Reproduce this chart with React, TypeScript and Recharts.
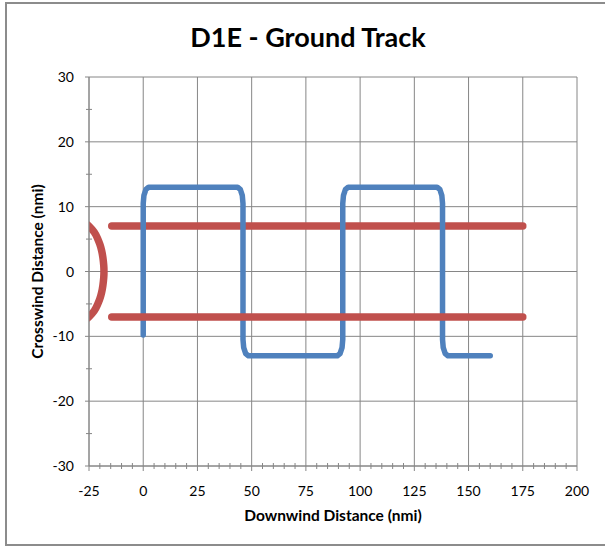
import React from 'react';
import { ComposedChart, Line, XAxis, YAxis, CartesianGrid } from 'recharts';

const xTicks = [-25, -20, -15, -10, -5, 0, 5, 10, 15, 20, 25, 30, 35, 40, 45, 50, 55, 60, 65, 70, 75, 80, 85, 90, 95, 100, 105, 110, 115, 120, 125, 130, 135, 140, 145, 150, 155, 160, 165, 170, 175, 180, 185, 190, 195, 200];
const xMajor = [-25, 0, 25, 50, 75, 100, 125, 150, 175, 200];
const yTicks = [-30, -25, -20, -15, -10, -5, 0, 5, 10, 15, 20, 25, 30];
const yMajor = [-30, -20, -10, 0, 10, 20, 30];

const groundTrack: [number, number][] = [
  [0, -9.8], [0, 10.5], [0.33, 11.75], [1.25, 12.67], [2.5, 13],
  [43.5, 13], [44.75, 12.67], [45.67, 11.75], [46, 10.5],
  [46, -10.5], [46.33, -11.75], [47.25, -12.67], [48.5, -13],
  [89.5, -13], [90.75, -12.67], [91.67, -11.75], [92, -10.5],
  [92, 10.5], [92.33, 11.75], [93.25, 12.67], [94.5, 13],
  [135.5, 13], [136.75, 12.67], [137.67, 11.75], [138, 10.5],
  [138, -10.5], [138.33, -11.75], [139.25, -12.67], [140.5, -13],
  [160, -13],
];
const boundaryUpper: [number, number][] = [[-14.5, 7], [175, 7]];
const boundaryLower: [number, number][] = [[-14.5, -7], [175, -7]];
const boundaryArc: [number, number][] = [
  [-30, 7.72], [-27, 7.47], [-25, 7.0], [-22.6, 6.07], [-21.1, 5.13], [-20, 4.2], [-19.2, 3.27], [-18.6, 2.15], [-18.2, 0.93], [-18.1, 0],
  [-18.2, -0.93], [-18.6, -2.15], [-19.2, -3.27], [-20, -4.2], [-21.1, -5.13], [-22.6, -6.07], [-25, -7.0], [-27, -7.47], [-30, -7.72],
];

const toRows = (pts: [number, number][]) => pts.map(([x, y]) => ({ x, y }));

const FONT = 'Lato, "Open Sans", sans-serif';
const GRID = '#868686';
const BLUE = '#4F81BD';
const RED = '#C0504D';

const XTick = (props: any) => {
  const { x, y, payload } = props;
  const v = payload.value;
  if (xMajor.includes(v)) {
    return (
      <g>
        <line x1={x} x2={x} y1={y} y2={y + 5} stroke={GRID} strokeWidth={1} />
        <text x={x} y={y + 29.5} textAnchor="middle" fontFamily={FONT} fontSize={14} fill="#000">{v}</text>
      </g>
    );
  }
  return <line x1={x} x2={x} y1={y - 3} y2={y + 3} stroke={GRID} strokeWidth={1} />;
};

const YTick = (props: any) => {
  const { x, y, payload } = props;
  const v = payload.value;
  if (yMajor.includes(v)) {
    return (
      <g>
        <line x1={x - 4} x2={x} y1={y} y2={y} stroke={GRID} strokeWidth={1} />
        <text x={x - 15} y={y + 5} textAnchor="end" fontFamily={FONT} fontSize={14} fill="#000">{v}</text>
      </g>
    );
  }
  return <line x1={x - 3} x2={x + 3} y1={y} y2={y} stroke={GRID} strokeWidth={1} />;
};

export default function App() {
  return (
    <div style={{ position: 'absolute', left: 0, top: 0, width: 605, height: 549, background: '#fff', overflow: 'hidden' }}>
      <div style={{ position: 'absolute', left: 5, top: 2, width: 610, height: 544, border: '2px solid #8c8c8c', boxSizing: 'border-box' }} />
      <svg width={605} height={549} style={{ position: 'absolute', left: 0, top: 0 }}>
        <text x={308} y={47} textAnchor="middle" fontFamily={FONT} fontWeight="bold" fontSize={27} fill="#000">D1E - Ground Track</text>
      </svg>
      <div style={{ position: 'absolute', left: 0, top: 0 }}>
        <ComposedChart width={605} height={549} margin={{ top: 77, right: 28, bottom: 0, left: 0 }}>
          <CartesianGrid stroke={GRID} strokeWidth={1} verticalValues={xMajor} horizontalValues={yMajor} />
          <XAxis
            type="number"
            dataKey="x"
            domain={[-25, 200]}
            ticks={xTicks}
            interval={0}
            allowDataOverflow
            height={83}
            axisLine={{ stroke: GRID, strokeWidth: 1 }}
            tickLine={false}
            tickSize={0}
            tickMargin={0}
            tick={XTick}
            label={{ value: 'Downwind Distance (nmi)', position: 'insideBottom', offset: 28, fontFamily: FONT, fontWeight: 'bold', fontSize: 15.5, fill: '#000' }}
          />
          <YAxis
            type="number"
            dataKey="y"
            domain={[-30, 30]}
            ticks={yTicks}
            interval={0}
            allowDataOverflow
            width={89}
            axisLine={{ stroke: GRID, strokeWidth: 1 }}
            tickLine={false}
            tickSize={0}
            tickMargin={0}
            tick={YTick}
            label={{ value: 'Crosswind Distance (nmi)', angle: -90, position: 'insideLeft', offset: 37, fontFamily: FONT, fontWeight: 'bold', fontSize: 15.5, fill: '#000', style: { textAnchor: 'middle' } }}
          />
          <Line data={toRows(boundaryArc)} dataKey="y" type="natural" stroke={RED} strokeWidth={7.5} strokeLinecap="round" dot={false} activeDot={false} isAnimationActive={false} />
          <Line data={toRows(boundaryUpper)} dataKey="y" type="linear" stroke={RED} strokeWidth={7.5} strokeLinecap="round" dot={false} activeDot={false} isAnimationActive={false} />
          <Line data={toRows(groundTrack)} dataKey="y" type="linear" stroke={BLUE} strokeWidth={5.5} strokeLinecap="round" strokeLinejoin="round" dot={false} activeDot={false} isAnimationActive={false} />
          <Line data={toRows(boundaryLower)} dataKey="y" type="linear" stroke={RED} strokeWidth={7.5} strokeLinecap="round" dot={false} activeDot={false} isAnimationActive={false} />
        </ComposedChart>
      </div>
    </div>
  );
}
